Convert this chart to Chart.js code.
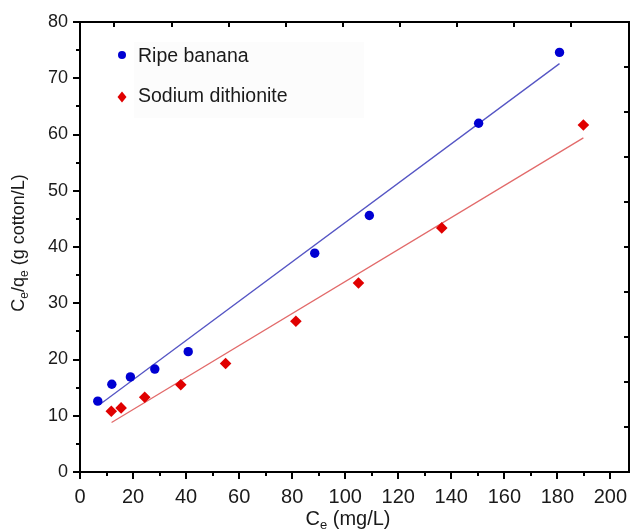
<!DOCTYPE html>
<html>
<head>
<meta charset="utf-8">
<script src="https://cdn.jsdelivr.net/npm/chart.js@4.4.1/dist/chart.umd.min.js"></script>
<style>
  html, body { margin: 0; padding: 0; background: #fff; }
  #wrap { width: 637px; height: 529px; }
</style>
</head>
<body>
<div id="wrap"><canvas id="c" width="637" height="529"></canvas></div>
<script>
// ---- Data ----
const seriesNames = ['Ripe banana', 'Sodium dithionite'];
const ceBanana = [6.7, 12.0, 19.0, 28.2, 40.8, 88.5, 109.1, 150.3, 180.8];
const ratioBanana = [12.6, 15.6, 16.9, 18.3, 21.4, 38.9, 45.6, 62.0, 74.6];
const ceDithionite = [11.8, 15.5, 24.4, 38.0, 54.9, 81.4, 105.0, 136.4, 189.8];
const ratioDithionite = [10.8, 11.4, 13.3, 15.5, 19.3, 26.8, 33.6, 43.4, 61.7];
const fitBananaX = [7.7, 180.8];
const fitBananaY = [12.1, 72.6];
const fitDithioniteX = [11.9, 189.8];
const fitDithioniteY = [8.8, 59.4];
const xTickLabels = [0, 20, 40, 60, 80, 100, 120, 140, 160, 180, 200];
const yTickLabels = [0, 10, 20, 30, 40, 50, 60, 70, 80];

const toPts = (xs, ys) => xs.map((x, i) => ({ x: x, y: ys[i] }));

const FONT = '"Liberation Sans", Arial, Helvetica, sans-serif';
const BLUE = '#0000d2';
const RED = '#e00000';

const framePlugin = {
  id: 'frame',
  afterDraw(chart) {
    const ctx = chart.ctx;
    const a = chart.chartArea;
    const sx = chart.scales.x, sy = chart.scales.y;
    const sx2 = chart.scales.x2, sy2 = chart.scales.y2;
    ctx.save();
    ctx.strokeStyle = '#000';
    ctx.lineWidth = 2;
    ctx.beginPath();
    // bottom ticks (outward)
    for (let v = 0; v <= 200; v += 10) {
      const px = Math.round(sx.getPixelForValue(v));
      const len = (v % 20 === 0) ? 7 : 4;
      ctx.moveTo(px, a.bottom); ctx.lineTo(px, a.bottom + len);
    }
    // left ticks (outward)
    for (let v = 0; v <= 80; v += 5) {
      const py = Math.round(sy.getPixelForValue(v));
      const len = (v % 10 === 0) ? 7 : 4;
      ctx.moveTo(a.left, py); ctx.lineTo(a.left - len, py);
    }
    // top ticks (inward)
    for (let v = 0; v <= 8; v += 1) {
      const px = Math.round(sx2.getPixelForValue(v));
      ctx.moveTo(px, a.top); ctx.lineTo(px, a.top + 5);
    }
    // right ticks (inward)
    for (let v = 1; v <= 9; v += 1) {
      const py = Math.round(sy2.getPixelForValue(v));
      ctx.moveTo(a.right, py); ctx.lineTo(a.right - 5, py);
    }
    ctx.stroke();

    // axis titles with subscripts
    ctx.fillStyle = '#1a1a1a';
    const drawRich = (parts, size, subSize) => {
      let w = 0;
      parts.forEach(p => {
        ctx.font = (p.sub ? subSize : size) + 'px ' + FONT;
        w += ctx.measureText(p.t).width;
      });
      let x = -w / 2;
      ctx.textBaseline = 'alphabetic';
      ctx.textAlign = 'left';
      parts.forEach(p => {
        ctx.font = (p.sub ? subSize : size) + 'px ' + FONT;
        ctx.fillText(p.t, x, p.sub ? 4 : 0);
        x += ctx.measureText(p.t).width;
      });
    };
    // x title
    ctx.save();
    ctx.translate(348, 525);
    drawRich([{t: 'C'}, {t: 'e', sub: true}, {t: ' (mg/L)'}], 20, 13);
    ctx.restore();
    // y title
    ctx.save();
    ctx.translate(24, 243);
    ctx.rotate(-Math.PI / 2);
    drawRich([{t: 'C'}, {t: 'e', sub: true}, {t: '/q'}, {t: 'e', sub: true}, {t: ' (g cotton/L)'}], 18, 12);
    ctx.restore();

    // legend
    ctx.fillStyle = '#fcfcfc';
    ctx.fillRect(134, 42, 230, 76);
    ctx.fillStyle = BLUE;
    ctx.beginPath(); ctx.arc(122, 55, 4, 0, Math.PI * 2); ctx.fill();
    ctx.fillStyle = RED;
    ctx.beginPath();
    ctx.moveTo(122, 91.5); ctx.lineTo(126.5, 97); ctx.lineTo(122, 102.5); ctx.lineTo(117.5, 97);
    ctx.closePath(); ctx.fill();
    ctx.fillStyle = '#1a1a1a';
    ctx.font = '19.5px ' + FONT;
    ctx.textAlign = 'left';
    ctx.textBaseline = 'middle';
    ctx.fillText(seriesNames[0], 138, 57);
    ctx.fillText(seriesNames[1], 138, 97);
    ctx.restore();
  }
};

new Chart(document.getElementById('c'), {
  type: 'scatter',
  data: {
    datasets: [
      {
        label: seriesNames[0],
        data: toPts(ceBanana, ratioBanana),
        pointStyle: 'circle', pointRadius: 4.7, pointHoverRadius: 4.7,
        backgroundColor: BLUE, borderColor: BLUE, borderWidth: 0, order: 1
      },
      {
        label: seriesNames[1],
        data: toPts(ceDithionite, ratioDithionite),
        pointStyle: 'rectRot', pointRadius: 5.8, pointHoverRadius: 5.8,
        backgroundColor: RED, borderColor: RED, borderWidth: 0, order: 1
      },
      {
        label: 'fit1', type: 'line',
        data: toPts(fitBananaX, fitBananaY),
        showLine: true, pointRadius: 0, borderColor: '#5555c4', borderWidth: 1.3,
        fill: false, order: 2
      },
      {
        label: 'fit2', type: 'line',
        data: toPts(fitDithioniteX, fitDithioniteY),
        showLine: true, pointRadius: 0, borderColor: '#e26a6a', borderWidth: 1.3,
        fill: false, order: 2
      }
    ]
  },
  options: {
    responsive: false,
    animation: false,
    events: [],
    layout: { padding: 0 },
    plugins: { legend: { display: false }, tooltip: { enabled: false } },
    scales: {
      x: {
        type: 'linear', position: 'bottom', min: 0, max: 207,
        afterFit: s => { s.height = 57; s.paddingLeft = 0; s.paddingRight = 0; },
        afterBuildTicks: s => { s.ticks = xTickLabels.map(v => ({ value: v })); },
        ticks: { padding: 13, color: '#1a1a1a', font: { family: FONT, size: 20 } },
        grid: { display: false, drawTicks: false },
        border: { display: true, color: '#000', width: 2 }
      },
      y: {
        type: 'linear', position: 'left', min: 0, max: 80,
        afterFit: s => { s.width = 80; s.paddingTop = 0; s.paddingBottom = 0; },
        afterBuildTicks: s => { s.ticks = yTickLabels.map(v => ({ value: v })); },
        ticks: { padding: 12, color: '#1a1a1a', font: { family: FONT, size: 18 } },
        grid: { display: false, drawTicks: false },
        border: { display: true, color: '#000', width: 2 }
      },
      x2: {
        type: 'linear', position: 'top', min: -0.604, max: 9.013,
        afterFit: s => { s.height = 22; },
        ticks: { display: false },
        grid: { display: false, drawTicks: false },
        border: { display: true, color: '#000', width: 2 }
      },
      y2: {
        type: 'linear', position: 'right', min: 0, max: 10,
        afterFit: s => { s.width = 8; },
        ticks: { display: false },
        grid: { display: false, drawTicks: false },
        border: { display: true, color: '#000', width: 2 }
      }
    }
  },
  plugins: [framePlugin]
});
</script>
</body>
</html>
